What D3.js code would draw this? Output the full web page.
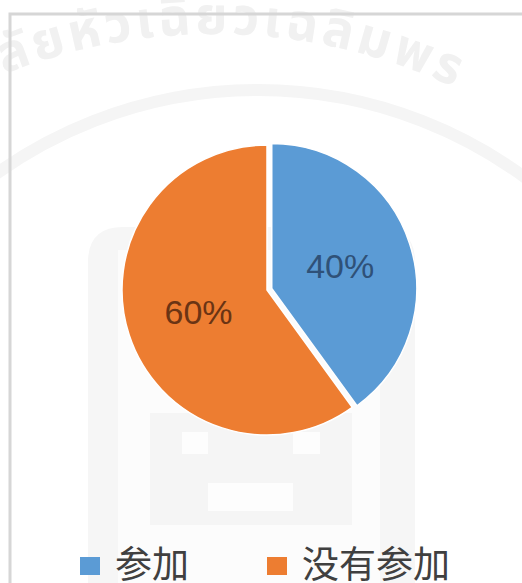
<!DOCTYPE html>
<html>
<head>
<meta charset="utf-8">
<script src="https://cdn.jsdelivr.net/npm/d3@7/dist/d3.min.js"></script>
<style>
  html, body { margin: 0; padding: 0; background: #ffffff; }
  svg { display: block; }
</style>
</head>
<body>
<svg id="chart" width="522" height="583"></svg>
<script>
const categories = ["参加", "没有参加"];
const values = [40, 60];
const colors = ["#5B9BD5", "#ED7D31"];
const labelColors = ["#2f5178", "#6a3414"];
const explode = [5, 0];
const watermark = "ลัยหัวเฉียวเฉลิมพร";

const W = 522, H = 583;
const svg = d3.select("#chart");

svg.append("rect").attr("width", W).attr("height", H).attr("fill", "#ffffff");

// faint watermark (background logo + curved text)
const wm = svg.append("g");
wm.append("path")
  .attr("d", "M88,583 L88,262 Q88,227 123,227 L380,227 Q415,227 415,262 L415,583 Z")
  .attr("fill", "#f6f6f6");
wm.append("rect").attr("x", 118).attr("y", 250).attr("width", 262).attr("height", 333).attr("fill", "#fcfcfc");
wm.append("rect").attr("x", 150).attr("y", 413).attr("width", 202).attr("height", 112).attr("fill", "#f5f5f5");
[[182, 432, 26, 22], [293, 432, 27, 22], [208, 483, 85, 28]].forEach(r => {
  wm.append("rect").attr("x", r[0]).attr("y", r[1]).attr("width", r[2]).attr("height", r[3]).attr("fill", "#fdfdfd");
});
const bandPath = d3.path();
bandPath.arc(258, 541, 451, -Math.PI / 2 - 0.72, -Math.PI / 2 + 0.72, false);
wm.append("path").attr("d", bandPath.toString()).attr("fill", "none")
  .attr("stroke", "#f5f5f5").attr("stroke-width", 12);

const wcx = 214, wcy = 601, wr = 567;
const a0 = Math.asin((4 - wcx) / wr), a1 = Math.asin((600 - wcx) / wr);
const arcPath = d3.path();
arcPath.arc(wcx, wcy, wr, a0 - Math.PI / 2, a1 - Math.PI / 2, false);
wm.append("path").attr("id", "wmpath").attr("d", arcPath.toString()).attr("fill", "none");
wm.append("text")
  .attr("font-family", "'Noto Sans Thai', 'DejaVu Sans', sans-serif")
  .attr("font-size", 52).attr("font-weight", "bold")
  .attr("letter-spacing", 4)
  .attr("fill", "#f1f1f1")
  .append("textPath").attr("href", "#wmpath").attr("startOffset", 0)
  .text(watermark);

// chart border
svg.append("rect").attr("x", 10).attr("y", 14).attr("width", W + 20).attr("height", H + 20)
  .attr("fill", "none").attr("stroke", "#d6d6d6").attr("stroke-width", 3);

const cx = 267, cy = 290, R = 145;
const pie = d3.pie().sort(null).value(d => d)(values);
const arc = d3.arc().innerRadius(0).outerRadius(R);
const labelArc = d3.arc().innerRadius(72).outerRadius(72);

const g = svg.append("g").attr("transform", `translate(${cx},${cy})`);
const slices = g.selectAll("g.slice").data(pie).enter().append("g")
  .attr("class", "slice")
  .attr("transform", (d, i) => {
    const m = (d.startAngle + d.endAngle) / 2;
    return `translate(${Math.sin(m) * explode[i]},${-Math.cos(m) * explode[i]})`;
  });
slices.append("path").attr("d", arc)
  .attr("fill", (d, i) => colors[i])
  .attr("stroke", "#ffffff").attr("stroke-width", 1.5);

const total = d3.sum(values);
slices.append("text")
  .attr("transform", d => `translate(${labelArc.centroid(d)})`)
  .attr("text-anchor", "middle")
  .attr("dy", "0.36em")
  .attr("font-family", "'Liberation Sans', Arial, sans-serif")
  .attr("font-size", 34)
  .attr("fill", (d, i) => labelColors[i])
  .text(d => Math.round(d.data / total * 100) + "%");

// legend
const legendX = [80, 267];
const leg = svg.append("g");
categories.forEach((c, i) => {
  leg.append("rect").attr("x", legendX[i]).attr("y", 557).attr("width", 20).attr("height", 18)
    .attr("fill", colors[i]);
  leg.append("text").attr("x", legendX[i] + 35).attr("y", 578)
    .attr("font-family", "'Noto Sans CJK SC', sans-serif")
    .attr("font-size", 37)
    .attr("fill", "#404040")
    .text(c);
});
</script>
</body>
</html>
